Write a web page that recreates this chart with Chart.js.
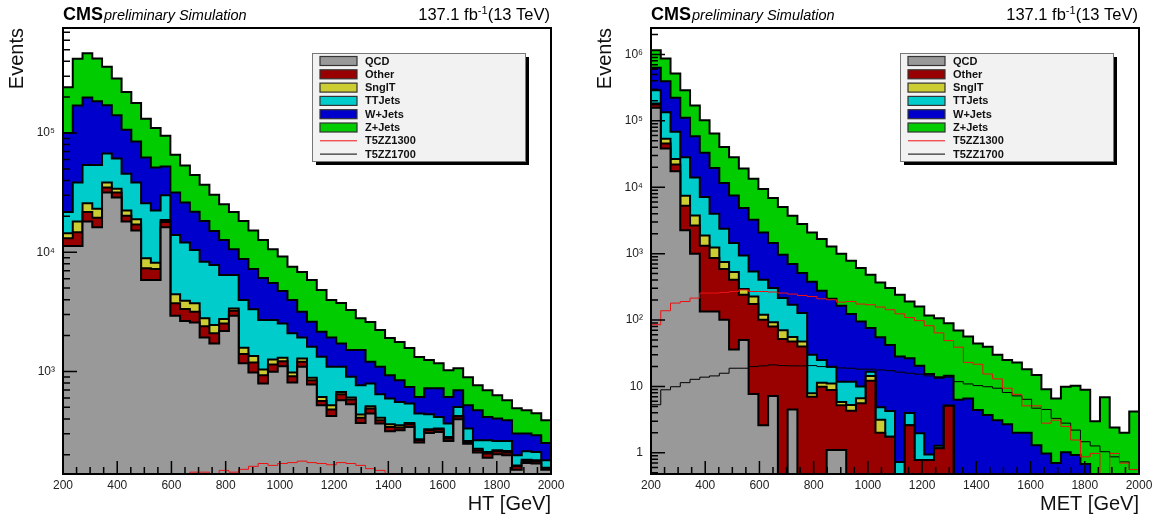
<!DOCTYPE html>
<html>
<head>
<meta charset="utf-8">
<script src="https://cdn.jsdelivr.net/npm/chart.js@4"></script>
<style>
  html, body { margin: 0; padding: 0; background: #fff; }
  #wrap { position: relative; width: 1158px; height: 521px; }
  canvas { position: absolute; top: 0; }
</style>
</head>
<body>
<div id="wrap">
  <canvas id="htChart" width="579" height="521" style="left:0"></canvas>
  <canvas id="metChart" width="579" height="521" style="left:579px"></canvas>
</div>
<script>
// both histograms: 50 bins of 36 GeV from 200 to 2000
const binLow = 200;
const binWidth = 36;
const nBins = 50;

const samples = ["QCD", "Other", "SnglT", "TTJets", "W+Jets", "Z+Jets"];
const sampleColors = ["#999999", "#990000", "#cccc33", "#00cccc", "#0000cc", "#00cc00"];
const signals = ["T5ZZ1300", "T5ZZ1700"];
const signalColors = ["#ee1111", "#000000"];

// ---- HT ----
const htQCD = [11300, 11300, 18100, 16200, 31700, 28800, 18100, 15200, 5850, 5850,
  16200, 2930, 2650, 2580, 1930, 1720, 2180, 2930, 1170, 980,
  793, 992, 1108, 808, 1093, 778, 521, 424, 574, 531,
  370, 444, 366, 315, 321, 342, 253, 305, 311, 261,
  397, 248, 209, 189, 202, 198, 150, 171, 169, 150];
const htOther = [1800, 3400, 3600, 3300, 3200, 2900, 2100, 1860, 1500, 1400,
  1700, 800, 690, 590, 470, 370, 350, 300, 230, 210,
  138, 153, 112, 105, 111, 67, 45, 55, 71, 51,
  38, 45, 24, 27, 17, 19, 12, 16, 15, 13,
  22, 8, 9, 16, 12, 11, 10, 6, 7, 4];
const htSnglT = [1350, 3370, 4100, 3700, 3600, 2300, 2200, 1840, 1550, 930,
  700, 710, 580, 560, 390, 360, 220, 150, 180, 155,
  109, 115, 80, 67, 82, 39, 46, 42, 29, 23,
  27, 22, 18, 19, 16, 9, 5, 6, 6, 8,
  5, 5, 7, 6, 4, 6, 3, 5, 4, 2];
const htTT = [7250, 20400, 28000, 30600, 28900, 27200, 23100, 19600, 16900, 14200,
  11500, 9540, 8120, 6720, 5550, 5370, 3700, 3070, 2390, 1975,
  1660, 1440, 1230, 1110, 644, 726, 715, 572, 419, 296,
  332, 282, 237, 232, 201, 168, 174, 111, 83, 84,
  80, 71, 40, 54, 43, 46, 35, 32, 31, 24];
const htW = [78300, 132000, 145000, 130700, 103200, 79400, 61100, 46500, 36600, 29000,
  22300, 17700, 14060, 11450, 9960, 7280, 6240, 4150, 4810, 3920,
  3380, 2820, 2200, 1880, 1240, 1000, 823, 837, 627, 609,
  743, 411, 448, 338, 290, 204, 168, 286, 309, 246,
  192, 189, 208, 150, 142, 129, 103, 87, 80, 71];
const htZ = [141500, 250000, 268000, 236500, 188400, 145400, 114400, 93600, 69500, 58600,
  42500, 34000, 27300, 22500, 18500, 15200, 12600, 11100, 9520, 7960,
  6610, 5080, 4460, 3600, 3660, 3240, 2670, 2040, 2030, 1770,
  1290, 1400, 1130, 974, 918, 828, 707, 521, 450, 414,
  370, 375, 294, 281, 229, 184, 191, 172, 155, 139];
const htSig1300 = [22, 35, 47, 58, 67, 74, 86, 93, 101, 109,
  118, 124, 131, 143, 143, 134, 148, 143, 151, 160,
  169, 163, 169, 172, 177, 172, 169, 165, 172, 169,
  163, 153, 148, 128, 121, 110, 98, 90, 77, 70,
  61, 52, 47, 40, 33, 29, 24, 20, 17, 14];
const htSig1700 = [4, 6, 8, 10, 12, 15, 16, 19, 21, 24,
  27, 29, 31, 34, 37, 40, 42, 44, 48, 50,
  52, 55, 56, 59, 61, 63, 64, 66, 68, 69,
  70, 71, 72, 72, 71, 70, 69, 67, 65, 62,
  59, 56, 53, 50, 46, 43, 39, 36, 33, 30];
const htTicks = [1e3, 1e4, 1e5];

// ---- MET ----
const metQCD = [157000, 38200, 17400, 2240, 997, 134, 134, 101, 36, 50,
  7.7, 2.6, 7.2, 0, 4.5, 0, 0, 0, 1.1, 1.1,
  0, 0, 0, 0, 0, 0, 0, 0, 0, 0,
  0, 0, 0, 0, 0, 0, 0, 0, 0, 0,
  0, 0, 0, 0, 0, 0, 0, 0, 0, 0];
const metOther = [19000, 7300, 4500, 3040, 1660, 1180, 724, 485, 368, 190,
  166, 98, 73, 52, 43, 40, 7.0, 9.9, 7.7, 4.1,
  4.3, 5.6, 12.2, 2.0, 1.75, 0, 2.6, 0.78, 0.78, 1.17,
  5.1, 0, 0, 0, 0, 0, 0, 0, 0, 0,
  0, 0, 0, 0, 0, 0, 0, 0, 0, 0];
const metSnglT = [6300, 8000, 4800, 2190, 1110, 564, 383, 161, 124, 53,
  52, 19, 12, 18, 7.8, 7.6, 0.9, 1.5, 2.3, 0.64,
  0.94, 1.06, 2.2, 1.15, 0, 0, 0, 0, 0, 0,
  0, 0, 0, 0, 0, 0, 0, 0, 0, 0,
  0, 0, 0, 0, 0, 0, 0, 0, 0, 0];
const metTT = [107000, 81300, 41600, 20800, 10300, 5260, 2760, 1630, 917, 646,
  313, 284, 211, 145, 114, 80, 22, 13.7, 8.7, 5.9,
  6.5, 3.3, 2.3, 1.7, 2.5, 0.73, 1.38, 1.19, 0.16, 0.11,
  0, 0, 0, 0, 0, 0, 0, 0, 0, 0,
  0, 0, 0, 0, 0, 0, 0, 0, 0, 0];
const metW = [340000, 261000, 154000, 82800, 44500, 25800, 15500, 9240, 6030, 3930,
  2710, 1680, 1140, 748, 528, 383, 347, 251, 189, 152,
  112, 85, 59, 50, 38, 27.4, 22.6, 18.6, 14.4, 12.5,
  9.4, 6.3, 6.6, 4.4, 3.7, 3.1, 2.7, 2.0, 2.0, 1.3,
  0.98, 0.7, 1.02, 0.93, 0.68, 0, 0, 0, 0, 0];
const metZ = [531000, 474000, 295000, 178500, 111600, 69100, 44800, 28900, 20700, 14200,
  10200, 7340, 5460, 4090, 3030, 2290, 1710, 1385, 1075, 833,
  657, 512, 405, 313, 261, 212, 164, 139, 102, 93,
  75, 63, 50, 40, 36, 27, 22.4, 20.9, 16.2, 13.6,
  8.1, 5.9, 8.9, 9.3, 8.2, 3.0, 6.9, 2.4, 2.0, 4.2];
const metSig1300 = [85, 138, 180, 190, 214, 255, 255, 260, 269, 285,
  269, 269, 264, 255, 246, 234, 226, 209, 202, 186,
  190, 174, 170, 157, 143, 124, 109, 98, 82, 64,
  49, 39, 23, 21.6, 15.4, 13.0, 9.4, 7.6, 5.1, 5.1,
  2.8, 3.1, 2.5, 1.56, 0.87, 0.98, 0, 0.98, 0.7, 0.56];
const metSig1700 = [5.3, 8.9, 9.9, 11.4, 12.8, 13.8, 14.4, 15.8, 18.8, 18.8,
  19.9, 20.4, 21.1, 20.6, 20.4, 20.4, 20.6, 19.9, 19.5, 19.0,
  18.8, 18.2, 18.2, 17.7, 17.3, 16.4, 15.8, 15.3, 14.4, 13.3,
  13.8, 11.8, 10.9, 10.3, 9.9, 9.4, 8.1, 7.2, 6.4, 4.7,
  4.5, 3.3, 2.8, 2.2, 1.47, 1.27, 1.04, 0.87, 0.73, 0.56];
const metTicks = [1, 10, 1e2, 1e3, 1e4, 1e5, 1e6];

const family = "'Liberation Sans', Arial, Helvetica, sans-serif";
Chart.defaults.font.family = family;
Chart.defaults.color = "#222";

const sup = "⁰¹²³⁴⁵⁶⁷⁸⁹";
const powLabel = (v) => {
  const e = Math.round(Math.log10(v));
  if (e === 0) return "1";
  if (e === 1) return "10";
  return "10" + String(e).split("").map((d) => sup[+d]).join("");
};

// an empty bin has no place on a log axis, so it is sent far below the frame
const toSteps = (vals) => {
  const pts = vals.map((v, i) => ({ x: binLow + i * binWidth, y: Math.max(v, 1e-4) }));
  pts.push({ x: binLow + nBins * binWidth, y: Math.max(vals[nBins - 1], 1e-4) });
  return pts;
};

const makeDatasets = (bkg, sig) => {
  const ds = bkg.map((vals, k) => ({
    label: samples[k],
    data: toSteps(vals),
    backgroundColor: sampleColors[k],
    borderColor: "#000",
    borderWidth: 2,
    fill: k === 0 ? "start" : "-1",
    stepped: "before",
    pointRadius: 0,
    stack: "bkg",
    clip: 0,
  }));
  sig.forEach((vals, k) => {
    ds.push({
      label: signals[k],
      data: toSteps(vals),
      borderColor: signalColors[k],
      borderWidth: 1,
      fill: false,
      stepped: "before",
      pointRadius: 0,
      stack: "sig" + k,
      order: -1,
      clip: 0,
    });
  });
  return ds;
};

const drawHeadline = (ctx, a) => {
  ctx.fillStyle = "#000";
  ctx.textBaseline = "alphabetic";
  ctx.textAlign = "left";
  ctx.font = `bold 18px ${family}`;
  ctx.fillText("CMS", a.left, 20);
  const w = ctx.measureText("CMS").width;
  ctx.font = `italic 14.5px ${family}`;
  ctx.fillText("preliminary Simulation", a.left + w + 1, 20);

  // lumi label, right aligned on the frame
  ctx.textAlign = "right";
  let x = a.right - 1;
  ctx.font = `16.5px ${family}`;
  ctx.fillText("(13 TeV)", x, 20);
  x -= ctx.measureText("(13 TeV)").width;
  ctx.font = `11px ${family}`;
  ctx.fillText("-1", x, 13.5);
  x -= ctx.measureText("-1").width;
  ctx.font = `16.5px ${family}`;
  ctx.fillText("137.1 fb", x, 20);
};

const drawLegend = (chart, ctx, a) => {
  const w = 213, h = 108;
  const x0 = a.right - 239, y0 = 53;
  ctx.fillStyle = "#000";
  ctx.fillRect(x0 + 4, y0 + 4, w, h);
  ctx.fillStyle = "#f2f2f2";
  ctx.fillRect(x0, y0, w, h);
  ctx.strokeStyle = "#777";
  ctx.lineWidth = 1;
  ctx.strokeRect(x0 + 0.5, y0 + 0.5, w, h);

  ctx.textAlign = "left";
  ctx.textBaseline = "middle";
  ctx.font = `bold 11px ${family}`;
  chart.data.datasets.forEach((ds, i) => {
    const cy = y0 + 8 + i * 13.3;
    if (ds.fill) {
      ctx.fillStyle = ds.backgroundColor;
      ctx.fillRect(x0 + 8, cy - 4.5, 37, 9);
      ctx.strokeStyle = "#333";
      ctx.lineWidth = 1.2;
      ctx.strokeRect(x0 + 8, cy - 4.5, 37, 9);
    } else {
      ctx.strokeStyle = ds.borderColor;
      ctx.lineWidth = 1;
      ctx.beginPath();
      ctx.moveTo(x0 + 8, cy);
      ctx.lineTo(x0 + 45, cy);
      ctx.stroke();
    }
    ctx.fillStyle = "#111";
    ctx.fillText(ds.label, x0 + 53, cy + 0.5);
  });
};

// inward ticks, frame, headline and legend box
const rootFrame = {
  id: "rootFrame",
  afterDraw(chart) {
    const { ctx, chartArea: a } = chart;
    const xs = chart.scales.x;
    const ys = chart.scales.y;
    ctx.save();
    ctx.strokeStyle = "#000";
    ctx.lineWidth = 1.5;
    ctx.beginPath();
    for (let v = xs.min; v <= xs.max; v += 50) {
      const px = xs.getPixelForValue(v);
      const len = (v - xs.min) % 200 === 0 ? 13 : 7;
      ctx.moveTo(px, a.bottom);
      ctx.lineTo(px, a.bottom - len);
    }
    const e0 = Math.floor(Math.log10(ys.min));
    const e1 = Math.ceil(Math.log10(ys.max));
    for (let e = e0; e <= e1; e++) {
      for (let m = 1; m < 10; m++) {
        const v = m * Math.pow(10, e);
        if (v < ys.min || v > ys.max) continue;
        const py = ys.getPixelForValue(v);
        ctx.moveTo(a.left, py);
        ctx.lineTo(a.left + (m === 1 ? 14 : 7), py);
      }
    }
    ctx.stroke();
    ctx.lineWidth = 2;
    ctx.strokeRect(a.left, a.top, a.right - a.left, a.bottom - a.top);
    drawHeadline(ctx, a);
    drawLegend(chart, ctx, a);
    ctx.restore();
  },
};

const makeHisto = (id, cfg) => {
  return new Chart(id, {
    type: "line",
    data: { datasets: makeDatasets(cfg.bkg, cfg.sig) },
    options: {
      responsive: false,
      animation: false,
      layout: { padding: { top: 28, right: cfg.rightPad, left: 0, bottom: 0 } },
      plugins: { legend: { display: false }, tooltip: { enabled: false } },
      scales: {
        x: {
          type: "linear",
          min: binLow,
          max: binLow + nBins * binWidth,
          grid: { display: false, drawTicks: false },
          border: { display: false },
          ticks: { stepSize: 200, padding: 4, maxRotation: 0, font: { size: 12 }, callback: (v) => String(v) },
          title: { display: true, text: cfg.xTitle, align: "end", color: "#111", font: { size: 20 }, padding: { top: 0, bottom: 5 } },
          afterFit: (s) => { s.height = 47; },
        },
        y: {
          type: "logarithmic",
          stacked: true,
          min: cfg.yMin,
          max: cfg.yMax,
          grid: { display: false, drawTicks: false },
          border: { display: false },
          afterBuildTicks: (s) => { s.ticks = cfg.ticks.map((v) => ({ value: v })); },
          ticks: { padding: 8, autoSkip: false, font: { size: 12 }, callback: (v) => powLabel(v) },
          title: { display: true, text: "Events", align: "end", color: "#111", font: { size: 20 }, padding: { top: cfg.titlePad, bottom: 0 } },
          afterFit: (s) => { s.width = cfg.yWidth; },
        },
      },
    },
    plugins: [rootFrame],
  });
};

makeHisto("htChart", {
  bkg: [htQCD, htOther, htSnglT, htTT, htW, htZ],
  sig: [htSig1300, htSig1700],
  xTitle: "HT [GeV]",
  yMin: 138,
  yMax: 7.6e5,
  ticks: htTicks,
  yWidth: 63,
  rightPad: 28,
  titlePad: 5,
});

makeHisto("metChart", {
  bkg: [metQCD, metOther, metSnglT, metTT, metW, metZ],
  sig: [metSig1300, metSig1700],
  xTitle: "MET [GeV]",
  yMin: 0.48,
  yMax: 2.5e6,
  ticks: metTicks,
  yWidth: 72,
  rightPad: 19,
  titlePad: 14.7,
});
</script>
</body>
</html>
